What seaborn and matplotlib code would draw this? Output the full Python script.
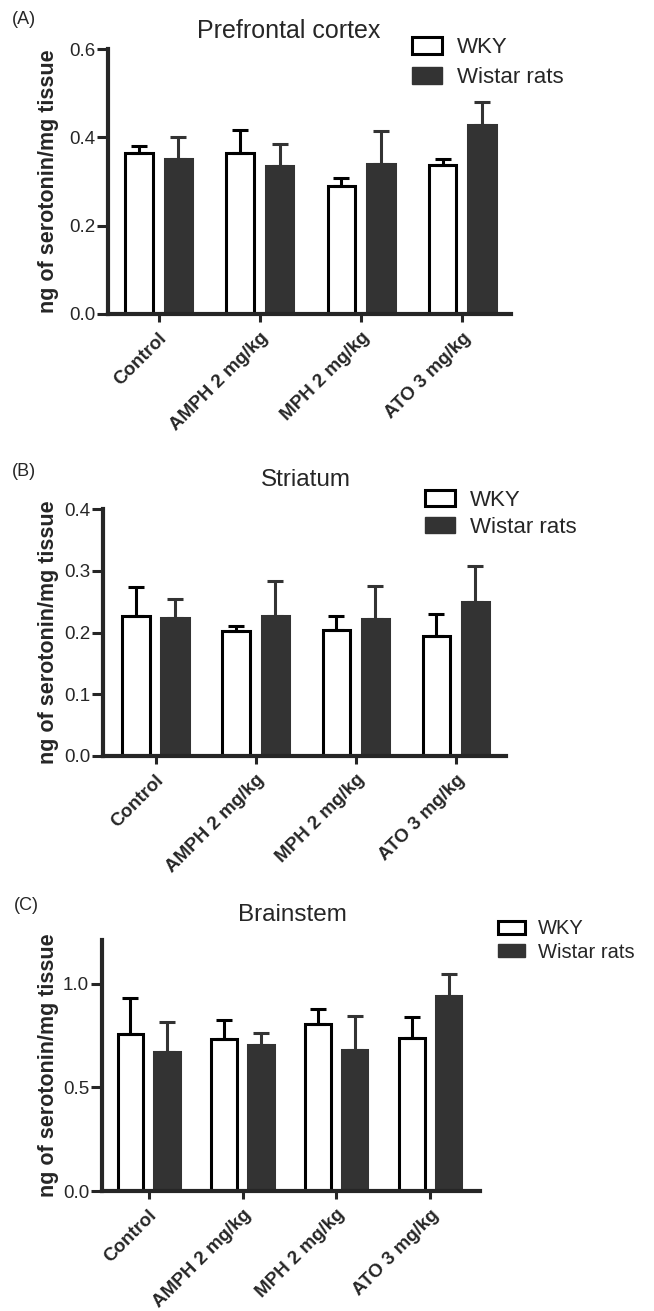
import numpy as np
import pandas as pd
import seaborn as sns
import matplotlib.pyplot as plt
from matplotlib.patches import Patch

groups = ['Control', 'AMPH 2 mg/kg', 'MPH 2 mg/kg', 'ATO 3 mg/kg']
strains = ['WKY', 'Wistar rats']

# Prefrontal cortex (A)
pfc_wky = [0.365, 0.365, 0.290, 0.337]
pfc_wky_sem = [0.015, 0.051, 0.018, 0.013]
pfc_wis = [0.352, 0.335, 0.340, 0.428]
pfc_wis_sem = [0.049, 0.051, 0.075, 0.052]

# Striatum (B)
str_wky = [0.227, 0.202, 0.204, 0.194]
str_wky_sem = [0.047, 0.009, 0.023, 0.036]
str_wis = [0.223, 0.226, 0.222, 0.249]
str_wis_sem = [0.032, 0.058, 0.053, 0.059]

# Brainstem (C)
bs_wky = [0.757, 0.733, 0.807, 0.738]
bs_wky_sem = [0.175, 0.090, 0.071, 0.103]
bs_wis = [0.672, 0.704, 0.680, 0.941]
bs_wis_sem = [0.143, 0.060, 0.162, 0.104]

dark = '#333333'
pal = {'WKY': 'white', 'Wistar rats': dark}

sns.set_style('ticks')
plt.rcParams['font.family'] = ['Liberation Sans', 'DejaVu Sans']
plt.rcParams['axes.linewidth'] = 3.0

fig = plt.figure(figsize=(6.54, 13.11), dpi=100)
W, H = 654.0, 1311.0


def px_axes(left, top, right, bottom):
    return fig.add_axes([left / W, 1 - bottom / H, (right - left) / W, (bottom - top) / H])


def panel(ax, box, wky, wky_sem, wis, wis_sem, ylim, yticks, xlim):
    df = pd.DataFrame({
        'group': groups * 2,
        'strain': ['WKY'] * 4 + ['Wistar rats'] * 4,
        'value': wky + wis,
    })
    sns.barplot(data=df, x='group', y='value', hue='strain', hue_order=strains,
                palette=pal, errorbar=None, width=0.78, gap=0.3,
                edgecolor='black', linewidth=2.2, legend=False, ax=ax)
    sems = wky_sem + wis_sem
    for i, p in enumerate(ax.patches[:8]):
        if i >= 4:
            p.set_edgecolor(dark)
        xc = p.get_x() + p.get_width() / 2
        col = 'black' if i < 4 else dark
        ax.errorbar(xc, p.get_height(), yerr=[[0], [sems[i]]], fmt='none',
                    ecolor=col, elinewidth=2.2, capsize=5.5, capthick=2.2, zorder=1)
    ax.set_ylim(*ylim)
    ax.set_xlim(*xlim)
    ax.set_yticks(yticks)
    ax.set_yticklabels([f'{t:.1f}' for t in yticks], fontsize=13.5)
    ax.set_xticks(range(4))
    ax.set_xticklabels(groups, rotation=45, ha='right', rotation_mode='anchor',
                       fontsize=13.5, fontweight='bold')
    ax.tick_params(axis='y', width=2.2, length=8, pad=1)
    ax.tick_params(axis='x', width=2.2, length=6, pad=5)
    ax.set_xlabel('')
    ax.set_ylabel('ng of serotonin/mg tissue', fontsize=15.5, fontweight='bold')
    left, right = box[0], box[2]
    ax.yaxis.set_label_coords((59 - left) / (right - left), 0.5)
    sns.despine(ax=ax)


def legend(ax, x, y, size, hl, hh, spacing):
    handles = [Patch(facecolor='white', edgecolor='black', linewidth=2.2),
               Patch(facecolor=dark, edgecolor=dark)]
    ax.legend(handles, strains, loc='upper left', bbox_to_anchor=(x / W, 1 - y / H),
              bbox_transform=fig.transFigure, frameon=False, fontsize=size,
              borderpad=0, borderaxespad=0, handlelength=hl, handleheight=hh,
              handletextpad=0.65, labelspacing=spacing)


boxA = (108, 49, 511, 314)
axA = px_axes(*boxA)
panel(axA, boxA, pfc_wky, pfc_wky_sem, pfc_wis, pfc_wis_sem, (0, 0.6), [0.0, 0.2, 0.4, 0.6], (-0.5, 3.48))
legend(axA, 412, 37, 16, 1.36, 0.8, 0.38)

boxB = (102.5, 509, 506, 756)
axB = px_axes(*boxB)
panel(axB, boxB, str_wky, str_wky_sem, str_wis, str_wis_sem, (0, 0.4), [0.0, 0.1, 0.2, 0.3, 0.4], (-0.53, 3.5))
legend(axB, 425, 490, 16, 1.36, 0.75, 0.27)

boxC = (101.7, 940, 480, 1191)
axC = px_axes(*boxC)
panel(axC, boxC, bs_wky, bs_wky_sem, bs_wis, bs_wis_sem, (0, 1.21), [0.0, 0.5, 1.0], (-0.5, 3.53))
legend(axC, 498, 919.5, 14.5, 1.35, 0.65, 0.2)

for lbl, ttl, tsize, (lx, ly), (tx, ty) in [('(A)', 'Prefrontal cortex', 18, (12, 19), (289, 31)),
                                           ('(B)', 'Striatum', 17.5, (12, 472), (306, 480)),
                                           ('(C)', 'Brainstem', 17.5, (14, 905), (292, 915))]:
    fig.text(lx / W, 1 - ly / H, lbl, fontsize=13, va='center', ha='left')
    fig.text(tx / W, 1 - ty / H, ttl, fontsize=tsize, va='center', ha='center')

fig.savefig('out.png', dpi=100, facecolor='white')
